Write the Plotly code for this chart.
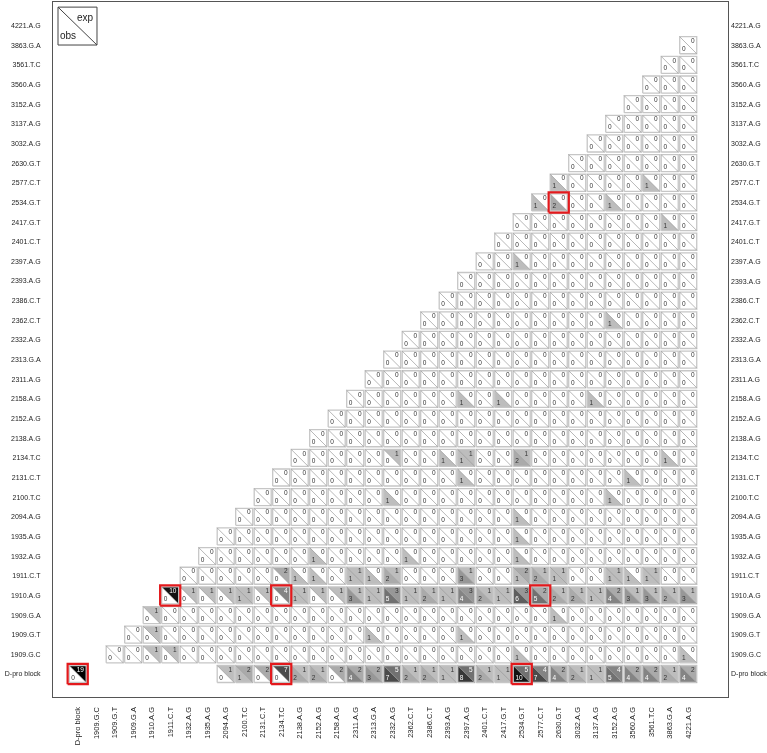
import plotly.graph_objects as go

# ---------------- data ----------------
labels = ["D-pro block", "1909.G.C", "1909.G.T", "1909.G.A", "1910.A.G", "1911.C.T",
          "1932.A.G", "1935.A.G", "2094.A.G", "2100.T.C", "2131.C.T", "2134.T.C",
          "2138.A.G", "2152.A.G", "2158.A.G", "2311.A.G", "2313.G.A", "2332.A.G",
          "2362.C.T", "2386.C.T", "2393.A.G", "2397.A.G", "2401.C.T", "2417.G.T",
          "2534.G.T", "2577.C.T", "2630.G.T", "3032.A.G", "3137.A.G", "3152.A.G",
          "3560.A.G", "3561.T.C", "3863.G.A", "4221.A.G"]

# sites that belong to the D-pro block (not paired with the block itself)
block_members = ["1909.G.C", "1909.G.T", "1909.G.A", "1910.A.G", "1911.C.T",
                 "1932.A.G", "1935.A.G"]

# non-zero cells (all other drawn cells are exp 0 / obs 0)
nz_row = (["D-pro block"] * 27
          + ["1909.G.C"] * 4 + ["1909.G.T"] * 3 + ["1909.G.A"] * 2
          + ["1910.A.G"] * 29 + ["1911.C.T"] * 13 + ["1932.A.G"] * 3
          + ["1935.A.G", "2094.A.G"] + ["2100.T.C"] * 2 + ["2131.C.T"] * 2
          + ["2134.T.C"] * 5 + ["2158.A.G"] * 3 + ["2362.C.T", "2397.A.G", "2417.G.T"]
          + ["2534.G.T"] * 3 + ["2577.C.T"] * 2)
nz_col = (["D-pro block", "2094.A.G", "2100.T.C", "2131.C.T", "2134.T.C", "2138.A.G",
           "2152.A.G", "2158.A.G", "2311.A.G", "2313.G.A", "2332.A.G", "2362.C.T",
           "2386.C.T", "2393.A.G", "2397.A.G", "2401.C.T", "2417.G.T", "2534.G.T",
           "2577.C.T", "2630.G.T", "3032.A.G", "3137.A.G", "3152.A.G", "3560.A.G",
           "3561.T.C", "3863.G.A", "4221.A.G"]
          + ["1910.A.G", "1911.C.T", "2534.G.T", "4221.A.G"]
          + ["1910.A.G", "2313.G.A", "2397.A.G"]
          + ["1910.A.G", "2630.G.T"]
          + ["1911.C.T", "1932.A.G", "1935.A.G", "2094.A.G", "2100.T.C", "2131.C.T",
             "2134.T.C", "2138.A.G", "2152.A.G", "2158.A.G", "2311.A.G", "2313.G.A",
             "2332.A.G", "2362.C.T", "2386.C.T", "2393.A.G", "2397.A.G", "2401.C.T",
             "2417.G.T", "2534.G.T", "2577.C.T", "2630.G.T", "3032.A.G", "3137.A.G",
             "3152.A.G", "3560.A.G", "3561.T.C", "3863.G.A", "4221.A.G"]
          + ["2134.T.C", "2138.A.G", "2152.A.G", "2311.A.G", "2313.G.A", "2332.A.G",
             "2397.A.G", "2534.G.T", "2577.C.T", "2630.G.T", "3152.A.G", "3560.A.G",
             "3561.T.C"]
          + ["2152.A.G", "2362.C.T", "2534.G.T"]
          + ["2534.G.T", "2534.G.T"]
          + ["2332.A.G", "3152.A.G"]
          + ["2397.A.G", "3560.A.G"]
          + ["2332.A.G", "2393.A.G", "2397.A.G", "2534.G.T", "3863.G.A"]
          + ["2397.A.G", "2417.G.T", "3137.A.G"]
          + ["3152.A.G", "2534.G.T", "3863.G.A"]
          + ["2577.C.T", "2630.G.T", "3152.A.G"]
          + ["2630.G.T", "3561.T.C"])
nz_exp = ([19, 1, 2, 2, 7, 1, 1, 2, 2, 2, 5, 1, 1, 1, 5, 1, 1, 5, 4, 2, 1, 1, 4, 2, 2, 1, 2]
          + [1, 1, 0, 0] + [1, 0, 0] + [1, 0]
          + [10, 1, 1, 1, 1, 1, 4, 1, 1, 1, 1, 1, 3, 1, 1, 1, 3, 1, 1, 3, 2, 1, 1, 1, 2, 1, 1, 1, 1]
          + [2, 0, 0, 1, 0, 1, 1, 2, 1, 1, 1, 0, 1]
          + [0, 0, 0] + [0, 0] + [0, 0] + [0, 0]
          + [1, 0, 1, 1, 0] + [0, 0, 0] + [0, 0, 0] + [0, 0, 0] + [0, 0])
nz_obs = ([0, 0, 1, 0, 0, 2, 2, 0, 4, 3, 7, 2, 2, 1, 8, 2, 1, 10, 7, 4, 2, 1, 5, 4, 4, 2, 4]
          + [0, 0, 1, 1] + [0, 1, 1] + [0, 1]
          + [0, 0, 0, 0, 1, 0, 0, 1, 0, 0, 3, 1, 5, 1, 2, 1, 4, 2, 1, 6, 5, 2, 2, 1, 4, 3, 3, 2, 3]
          + [0, 1, 1, 1, 1, 2, 3, 1, 2, 1, 1, 1, 1]
          + [1, 1, 1] + [1, 1] + [1, 1] + [1, 1]
          + [0, 1, 1, 2, 1] + [1, 1, 1] + [1, 1, 1] + [1, 2, 1] + [1, 1])

# cells outlined in red
hl_row = ["D-pro block", "1910.A.G", "1910.A.G", "D-pro block", "D-pro block", "1910.A.G", "2534.G.T"]
hl_col = ["D-pro block", "1911.C.T", "2134.T.C", "2134.T.C", "2534.G.T", "2577.C.T", "2630.G.T"]

# ---------------- build ----------------
idx = {l: i for i, l in enumerate(labels)}
vals = {}
for r, c, e, o in zip(nz_row, nz_col, nz_exp, nz_obs):
    vals[(idx[r], idx[c])] = (e, o)

cells = []
for i, rl in enumerate(labels):
    for j, cl in enumerate(labels):
        if rl == "D-pro block":
            if j == 0 or cl not in block_members:
                cells.append((i, j))
        elif j > i:
            cells.append((i, j))

HX, HY = 0.46, 0.433      # half cell size (data units)
RX, RY = 0.545, 0.515     # half size of red outline


def shade(v):
    g = max(0, 208 - 19 * v)
    return f"rgb({g},{g},{g})"


fills = {}
for (i, j) in cells:
    e, o = vals.get((i, j), (0, 0))
    x, y = j, i
    if e > 0:
        fx, fy = fills.setdefault(e, ([], []))
        fx += [x - HX, x + HX, x + HX, x - HX, None]
        fy += [y + HY, y + HY, y - HY, y + HY, None]
    if o > 0:
        fx, fy = fills.setdefault(o, ([], []))
        fx += [x - HX, x - HX, x + HX, x - HX, None]
        fy += [y + HY, y - HY, y - HY, y + HY, None]

fig = go.Figure()
for v in sorted(fills):
    fx, fy = fills[v]
    fig.add_trace(go.Scatter(x=fx, y=fy, mode="lines", fill="toself",
                             fillcolor=shade(v), line=dict(width=0, color=shade(v)),
                             hoverinfo="skip", showlegend=False))

bx, by, dx, dy = [], [], [], []
for (i, j) in cells:
    x, y = j, i
    bx += [x - HX, x + HX, x + HX, x - HX, x - HX, None]
    by += [y - HY, y - HY, y + HY, y + HY, y - HY, None]
    dx += [x - HX, x + HX, None]
    dy += [y + HY, y - HY, None]

fig.add_trace(go.Scatter(x=bx, y=by, mode="lines",
                         line=dict(width=1.3, color="#c6c6c6"),
                         hoverinfo="skip", showlegend=False))
fig.add_trace(go.Scatter(x=dx, y=dy, mode="lines",
                         line=dict(width=0.7, color="#9a9a9a"),
                         hoverinfo="skip", showlegend=False))

rx, ry = [], []
for r, c in zip(hl_row, hl_col):
    x, y = idx[c], idx[r]
    rx += [x - RX, x + RX, x + RX, x - RX, x - RX, None]
    ry += [y - RY, y - RY, y + RY, y + RY, y - RY, None]
fig.add_trace(go.Scatter(x=rx, y=ry, mode="lines",
                         line=dict(width=2.2, color="#e3191c"),
                         hoverinfo="skip", showlegend=False))

DIG = 0.1  # half digit width in x units
texts = {"#333333": ([], [], []), "#ffffff": ([], [], [])}
for (i, j) in cells:
    e, o = vals.get((i, j), (0, 0))
    x, y = j, i
    se, so = str(e), str(o)
    tx, ty, tt = texts["#ffffff" if e >= 4 else "#333333"]
    tx.append(x + HX - 0.115 - DIG * len(se))
    ty.append(y + HY - 0.23)
    tt.append(se)
    tx, ty, tt = texts["#ffffff" if o >= 4 else "#333333"]
    tx.append(x - HX + 0.115 + DIG * len(so))
    ty.append(y - HY + 0.23)
    tt.append(so)

for col, (tx, ty, tt) in texts.items():
    fig.add_trace(go.Scatter(x=tx, y=ty, text=tt, mode="text",
                             textposition="middle center",
                             textfont=dict(size=6.5, color=col, family="Liberation Sans"),
                             hoverinfo="skip", showlegend=False))

# legend key (top-left)
fig.add_shape(type="rect", x0=-1.065, x1=1.043, y0=32.01, y1=33.94, xref="x", yref="y",
              line=dict(color="#444444", width=1))
fig.add_shape(type="line", x0=-1.065, x1=1.043, y0=33.94, y1=32.01, xref="x", yref="y",
              line=dict(color="#444444", width=1))
fig.add_annotation(x=0.40, y=33.40, text="exp", showarrow=False, xref="x", yref="y",
                   font=dict(size=10, color="#222222", family="Liberation Sans"))
fig.add_annotation(x=-0.50, y=32.52, text="obs", showarrow=False, xref="x", yref="y",
                   font=dict(size=10, color="#222222", family="Liberation Sans"))

XR = [-1.335, 35.15]
YR = [-1.17, 34.2]
rowfont = dict(size=7, color="#222222", family="Liberation Sans")
colfont = dict(size=7.5, color="#222222", family="Liberation Sans")

# right-hand row labels
for i, l in enumerate(labels):
    fig.add_annotation(x=XR[1], y=i, text=l, showarrow=False, xref="x", yref="y",
                       xanchor="left", xshift=1, font=rowfont)

fig.update_layout(
    width=767, height=753,
    margin=dict(l=53, r=39, t=2, b=56),
    paper_bgcolor="white", plot_bgcolor="white",
    font=dict(family="Liberation Sans"),
    xaxis=dict(range=XR, tickmode="array", tickvals=list(range(len(labels))), ticktext=labels,
               tickangle=-90, ticks="", ticklabelstandoff=6, tickfont=colfont,
               showgrid=False, zeroline=False, showline=True, mirror=True,
               linecolor="#555555", linewidth=1, fixedrange=True),
    yaxis=dict(range=YR, tickmode="array", tickvals=list(range(len(labels))), ticktext=labels,
               ticks="", ticklabelstandoff=10, tickfont=rowfont,
               showgrid=False, zeroline=False, showline=True, mirror=True,
               linecolor="#555555", linewidth=1, fixedrange=True),
)

fig.write_html(
    "out.html",
    config={"displayModeBar": False, "staticPlot": True},
    post_script=("document.body.style.margin='0';document.body.style.overflow='hidden';"
                 "document.querySelectorAll('.plotly-graph-div').forEach(function(d){"
                 "d.style.willChange='transform';});"),
)
